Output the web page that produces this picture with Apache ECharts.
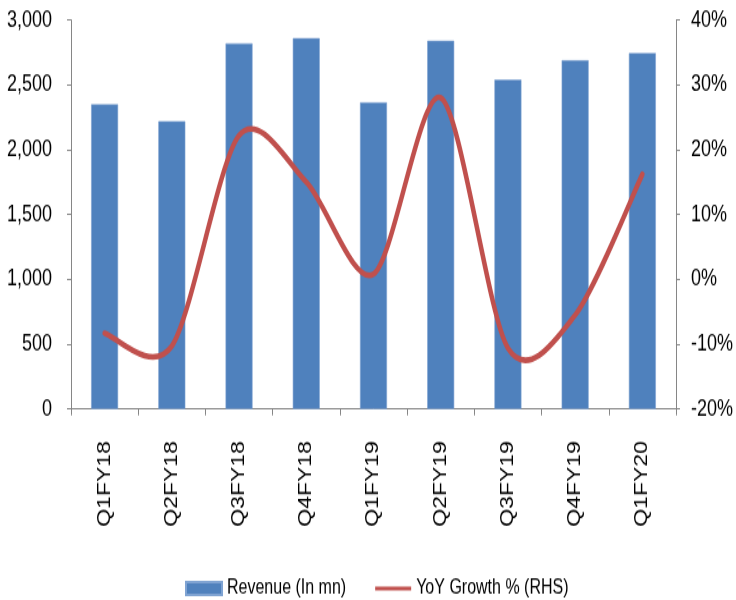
<!DOCTYPE html>
<html>
<head>
<meta charset="utf-8">
<script src="https://cdn.jsdelivr.net/npm/echarts@6/dist/echarts.min.js"></script>
<style>
  html, body { margin: 0; padding: 0; background: #fff; width: 736px; height: 600px; }
  #frame { width: 736px; height: 600px; position: relative; }
  /* the chart is drawn on a shorter canvas and stretched vertically to fill the frame */
  #chart { position: absolute; left: 0; top: 0; width: 736px; height: 469px; transform: scaleY(1.2793); transform-origin: 0 0; }
</style>
</head>
<body>
<div id="frame"><div id="chart"></div></div>
<script>
const quarters = ['Q1FY18', 'Q2FY18', 'Q3FY18', 'Q4FY18', 'Q1FY19', 'Q2FY19', 'Q3FY19', 'Q4FY19', 'Q1FY20'];
const revenue = [2350, 2220, 2820, 2860, 2365, 2840, 2540, 2690, 2745];
const yoyGrowth = [-8.3, -10.3, 22.2, 15.0, 0.8, 28.0, -10.6, -5.5, 16.2];
const revenueTicks = { min: 0, max: 3000, step: 500 };
const growthTicks = { min: -20, max: 40, step: 10 };

const FONT = 'Liberation Sans, Arial, sans-serif';
const AXIS_GREY = '#868686';
const LINE_RED = '#C0504D';
const TENSION = 0.15; // Catmull-Rom style tangent factor for the growth curve

// smooth curve through every point, tangents taken from the neighbouring points
function renderGrowthCurve(params, api) {
  if (params.dataIndex !== 0) return null;
  const pts = yoyGrowth.map((v, i) => api.coord([i, v]));
  const n = pts.length;
  let d = 'M' + pts[0][0] + ',' + pts[0][1];
  for (let i = 0; i < n - 1; i++) {
    const p0 = pts[Math.max(i - 1, 0)];
    const p1 = pts[i];
    const p2 = pts[i + 1];
    const p3 = pts[Math.min(i + 2, n - 1)];
    const c1x = p1[0] + (p2[0] - p0[0]) * TENSION;
    const c1y = p1[1] + (p2[1] - p0[1]) * TENSION;
    const c2x = p2[0] - (p3[0] - p1[0]) * TENSION;
    const c2y = p2[1] - (p3[1] - p1[1]) * TENSION;
    d += ' C' + c1x + ',' + c1y + ' ' + c2x + ',' + c2y + ' ' + p2[0] + ',' + p2[1];
  }
  return {
    type: 'path',
    z2: 10,
    shape: { pathData: d },
    style: { fill: 'none', stroke: LINE_RED, lineWidth: 4.5, lineCap: 'round', lineJoin: 'round' }
  };
}

const chart = echarts.init(document.getElementById('chart'));
chart.setOption({
  animation: false,
  backgroundColor: '#fff',
  grid: { left: 71, right: 55, top: 15.6, bottom: 149.3, containLabel: false },
  legend: {
    left: 180,
    top: 447,
    itemWidth: 36,
    itemHeight: 10,
    itemGap: 29,
    textStyle: { fontFamily: FONT, fontSize: 16, color: '#000' },
    data: [
      { name: 'Revenue (In mn)', icon: 'rect' },
      { name: 'YoY Growth % (RHS)', icon: 'path://M0,0 M36,10 M0,3.6 L36,3.6 L36,6.4 L0,6.4 Z' }
    ]
  },
  xAxis: {
    type: 'category',
    data: quarters,
    boundaryGap: true,
    axisLine: { lineStyle: { color: AXIS_GREY, width: 1 } },
    axisTick: { show: true, inside: false, length: 5, lineStyle: { color: AXIS_GREY } },
    axisLabel: { rotate: 90, margin: 25, fontFamily: FONT, fontSize: 18, color: '#000' }
  },
  yAxis: [
    {
      type: 'value',
      min: revenueTicks.min,
      max: revenueTicks.max,
      interval: revenueTicks.step,
      splitLine: { show: false },
      axisLine: { show: true, lineStyle: { color: AXIS_GREY, width: 1 } },
      axisTick: { show: true, inside: false, length: 4, lineStyle: { color: AXIS_GREY } },
      axisLabel: {
        margin: 19, fontFamily: FONT, fontSize: 18, color: '#000',
        formatter: v => v.toLocaleString('en-US')
      }
    },
    {
      type: 'value',
      position: 'right',
      min: growthTicks.min,
      max: growthTicks.max,
      interval: growthTicks.step,
      splitLine: { show: false },
      axisLine: { show: true, lineStyle: { color: AXIS_GREY, width: 1 } },
      axisTick: { show: true, inside: false, length: 4, lineStyle: { color: AXIS_GREY } },
      axisLabel: { margin: 15, fontFamily: FONT, fontSize: 18, color: '#000', formatter: '{value}%' }
    }
  ],
  series: [
    {
      name: 'Revenue (In mn)',
      type: 'bar',
      yAxisIndex: 0,
      z: 2,
      data: revenue,
      barWidth: 27,
      itemStyle: { color: '#4F81BD', borderColor: '#7fa3d2', borderWidth: 0.6 }
    },
    {
      name: 'YoY Growth % (RHS)',
      type: 'custom',
      yAxisIndex: 1,
      z: 5,
      data: yoyGrowth.map((v, i) => [i, v]),
      encode: { x: 0, y: 1 },
      itemStyle: { color: LINE_RED },
      clip: false,
      renderItem: renderGrowthCurve
    }
  ]
});
</script>
</body>
</html>
